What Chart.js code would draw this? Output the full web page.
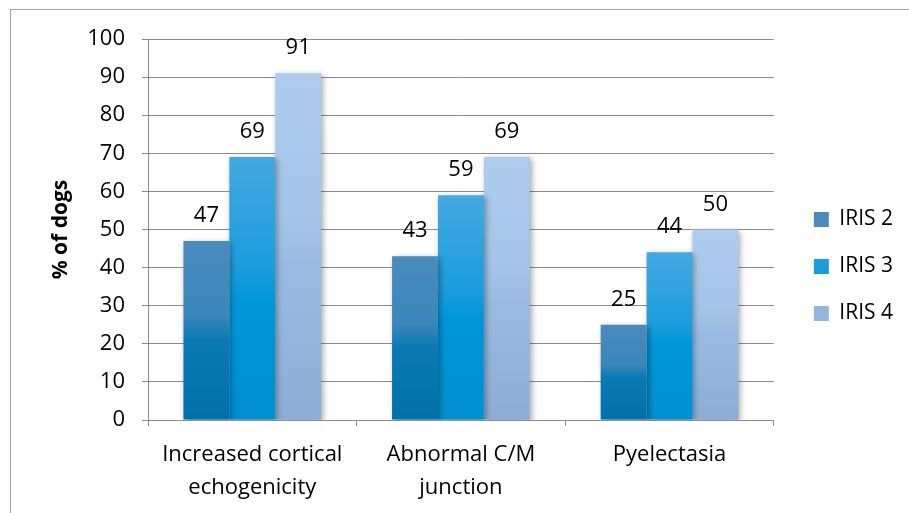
<!DOCTYPE html>
<html>
<head>
<meta charset="utf-8">
<script src="https://cdn.jsdelivr.net/npm/chart.js@4"></script>
<style>
  html, body { margin: 0; padding: 0; background: #fff; }
  #wrap { width: 909px; height: 513px; position: relative; }
</style>
</head>
<body>
<div id="wrap"><canvas id="chart" width="909" height="513"></canvas></div>
<script>
const categories = [
  ['Increased cortical', 'echogenicity'],
  ['Abnormal C/M', 'junction'],
  ['Pyelectasia']
];
const seriesNames = ['IRIS 2', 'IRIS 3', 'IRIS 4'];
const iris2 = [47, 43, 25];
const iris3 = [69, 59, 44];
const iris4 = [91, 69, 50];

const FONT = '"Open Sans", Lato, sans-serif';

// gradient stops per series (top -> bottom of each bar)
const shades = [
  ['#4b8bbd', '#3a86bb', '#0b7ab4', '#0071a8'],
  ['#45a8e2', '#1b9ddc', '#0097d9', '#008fd2'],
  ['#aecdee', '#a4c4e8', '#9abbe1', '#8caed6']
];
const solid = ['#1f78b0', '#1a9ddc', '#a3c3e6'];

function barFill(i) {
  return (ctx) => {
    const chart = ctx.chart;
    const y = chart.scales && chart.scales.y;
    if (!chart.chartArea || !y || ctx.type !== 'data') return solid[i];
    const top = y.getPixelForValue(ctx.raw);
    const bottom = y.getPixelForValue(0);
    if (!isFinite(top) || bottom - top < 1) return solid[i];
    const g = chart.ctx.createLinearGradient(0, top, 0, bottom);
    g.addColorStop(0, shades[i][0]);
    g.addColorStop(0.42, shades[i][1]);
    g.addColorStop(0.55, shades[i][2]);
    g.addColorStop(1, shades[i][3]);
    return g;
  };
}

// outer frame and bar shadows
const framePlugin = {
  id: 'frame',
  beforeDraw(chart) {
    const c = chart.ctx;
    c.save();
    c.strokeStyle = '#a6a6a6';
    c.lineWidth = 1;
    c.strokeRect(10.5, 9.5, 1000, 1000);
    c.restore();
  },
  beforeDatasetsDraw(chart) {
    const c = chart.ctx;
    c.save();
    c.shadowColor = 'rgba(0,0,0,0.35)';
    c.shadowBlur = 6;
    c.shadowOffsetX = 2;
    c.shadowOffsetY = 2;
  },
  afterDatasetsDraw(chart) {
    chart.ctx.restore();
  }
};

// push the legend a bit away from the plot, like the original
const legendShift = {
  id: 'legendShift',
  afterInit(chart) {
    const lg = chart.legend;
    if (!lg) return;
    const fit = lg.fit.bind(lg);
    lg.fit = function () { fit(); this.width += 14; };
    const draw = lg.draw.bind(lg);
    lg.draw = function () {
      const c = this.ctx;
      c.save();
      c.translate(14, -3);
      draw();
      c.restore();
    };
  }
};

// value labels above bars
const labelPlugin = {
  id: 'valueLabels',
  afterDatasetsDraw(chart) {
    const c = chart.ctx;
    c.save();
    c.font = '22px ' + FONT;
    c.fillStyle = '#000';
    c.textAlign = 'center';
    c.textBaseline = 'alphabetic';
    chart.data.datasets.forEach((ds, i) => {
      chart.getDatasetMeta(i).data.forEach((bar, j) => {
        c.fillText(ds.data[j], bar.x, bar.y - 19);
      });
    });
    c.restore();
  }
};

new Chart(document.getElementById('chart').getContext('2d'), {
  type: 'bar',
  data: {
    labels: categories,
    datasets: [
      { label: seriesNames[0], data: iris2, backgroundColor: barFill(0) },
      { label: seriesNames[1], data: iris3, backgroundColor: barFill(1) },
      { label: seriesNames[2], data: iris4, backgroundColor: barFill(2) }
    ]
  },
  options: {
    responsive: false,
    animation: false,
    layout: { padding: { top: 39, right: 6, bottom: 13, left: 44 } },
    datasets: {
      bar: { categoryPercentage: 0.66, barPercentage: 1.0 }
    },
    scales: {
      x: {
        afterFit(scale) { scale.height = 80; },
        grid: {
          offset: true,
          drawOnChartArea: false,
          color: '#8c8c8c',
          tickLength: 6
        },
        border: { color: '#8c8c8c' },
        ticks: { color: '#000', font: { family: FONT, size: 22, lineHeight: 1.5 }, padding: 12 }
      },
      y: {
        min: 0,
        max: 100,
        afterFit(scale) { scale.width = 104; },
        ticks: { stepSize: 10, color: '#000', font: { family: FONT, size: 22 }, padding: 17 },
        grid: { color: '#8c8c8c', tickLength: 6 },
        border: { color: '#8c8c8c' },
        title: {
          display: true,
          text: '% of dogs',
          color: '#000',
          font: { family: FONT, size: 21, weight: 'bold' },
          padding: { bottom: 4 }
        }
      }
    },
    plugins: {
      legend: {
        position: 'right',
        labels: {
          color: '#000',
          font: { family: FONT, size: 21 },
          boxWidth: 15,
          boxHeight: 15,
          padding: 26
        }
      },
      tooltip: { enabled: false }
    }
  },
  plugins: [framePlugin, labelPlugin, legendShift]
});
</script>
</body>
</html>
